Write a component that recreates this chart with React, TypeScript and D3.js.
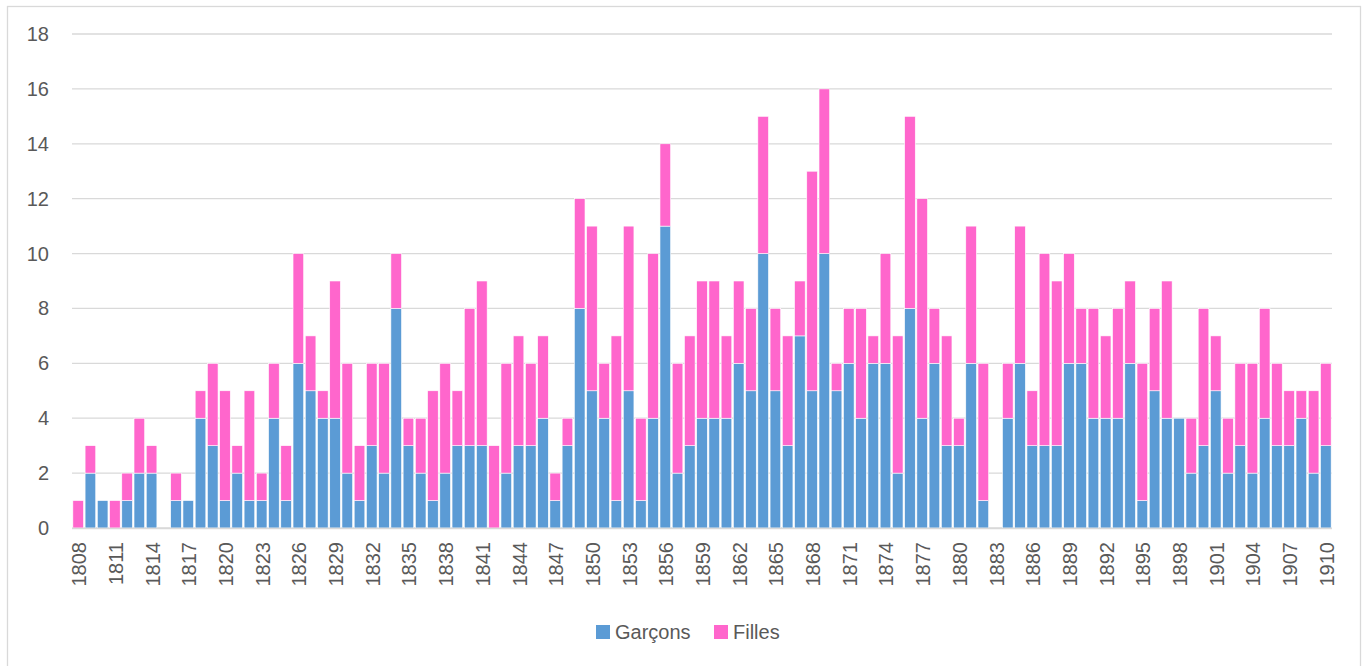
import { useEffect, useRef } from "react";
import * as d3 from "d3";

// années 1808 - 1910
const years = d3.range(1808, 1911).map(String);

// nombre de garçons par année
const garcons = [
  0, 2, 1, 0, 1, 2, 2, 0, 1, 1, 4, 3, 1, 2, 1, 1, 4, 1, 6, 5,
  4, 4, 2, 1, 3, 2, 8, 3, 2, 1, 2, 3, 3, 3, 0, 2, 3, 3, 4, 1,
  3, 8, 5, 4, 1, 5, 1, 4, 11, 2, 3, 4, 4, 4, 6, 5, 10, 5, 3, 7,
  5, 10, 5, 6, 4, 6, 6, 2, 8, 4, 6, 3, 3, 6, 1, 0, 4, 6, 3, 3,
  3, 6, 6, 4, 4, 4, 6, 1, 5, 4, 4, 2, 3, 5, 2, 3, 2, 4, 3, 3,
  4, 2, 3,
];

// nombre de filles par année
const filles = [
  1, 1, 0, 1, 1, 2, 1, 0, 1, 0, 1, 3, 4, 1, 4, 1, 2, 2, 4, 2,
  1, 5, 4, 2, 3, 4, 2, 1, 2, 4, 4, 2, 5, 6, 3, 4, 4, 3, 3, 1,
  1, 4, 6, 2, 6, 6, 3, 6, 3, 4, 4, 5, 5, 3, 3, 3, 5, 3, 4, 2,
  8, 6, 1, 2, 4, 1, 4, 5, 7, 8, 2, 4, 1, 5, 5, 0, 2, 5, 2, 7,
  6, 4, 2, 4, 3, 4, 3, 5, 3, 5, 0, 2, 5, 2, 2, 3, 4, 4, 3, 2,
  1, 3, 3,
];

const series = ["Garçons", "Filles"];
const colors = ["#5B9BD5", "#FF66CC"];
const yTicks = [0, 2, 4, 6, 8, 10, 12, 14, 16, 18];

const W = 1367;
const H = 666;
const FONT = "'Liberation Sans', Arial, sans-serif";

const App = () => {
  const ref = useRef(null);

  useEffect(() => {
    const svg = d3.select(ref.current);
    svg.selectAll("*").remove();

    const left = 72;
    const right = 1332;
    const top = 34;
    const bottom = 528;

    const x = d3.scaleBand().domain(years).range([left, right]).paddingInner(0.13).paddingOuter(0.07);
    const y = d3.scaleLinear().domain([0, 18]).range([bottom, top]);

    // cadre (coupé en bas)
    svg
      .append("rect")
      .attr("x", 7.5)
      .attr("y", 6.5)
      .attr("width", 1353)
      .attr("height", 670)
      .attr("fill", "white")
      .attr("stroke", "#D9D9D9")
      .attr("stroke-width", 1.3);

    // grille
    svg
      .append("g")
      .selectAll("line")
      .data(yTicks)
      .enter()
      .append("line")
      .attr("x1", left)
      .attr("x2", right)
      .attr("y1", (d) => y(d))
      .attr("y2", (d) => y(d))
      .attr("stroke", "#D9D9D9")
      .attr("stroke-width", 1.3);

    // labels axe y
    svg
      .append("g")
      .selectAll("text")
      .data(yTicks)
      .enter()
      .append("text")
      .attr("x", 49)
      .attr("y", (d) => y(d))
      .attr("dy", "0.35em")
      .attr("text-anchor", "end")
      .attr("fill", "#595959")
      .style("font-family", FONT)
      .style("font-size", "20px")
      .text((d) => d);

    // empilement
    const table = years.map((yr, i) => ({ year: yr, "Garçons": garcons[i], Filles: filles[i] }));
    const stacked = d3.stack().keys(series)(table);

    svg
      .append("g")
      .selectAll("g")
      .data(stacked)
      .enter()
      .append("g")
      .attr("fill", (d, i) => colors[i])
      .selectAll("rect")
      .data((d) => d.filter((p) => p[1] > p[0]))
      .enter()
      .append("rect")
      .attr("x", (d) => x(d.data.year))
      .attr("width", x.bandwidth())
      .attr("y", (d) => y(d[1]))
      .attr("height", (d) => y(d[0]) - y(d[1]))
      .attr("stroke", "white")
      .attr("stroke-width", 0.6);

    // axe x
    svg
      .append("line")
      .attr("x1", left)
      .attr("x2", right)
      .attr("y1", bottom + 0.5)
      .attr("y2", bottom + 0.5)
      .attr("stroke", "#D9D9D9")
      .attr("stroke-width", 1.3);

    svg
      .append("g")
      .selectAll("text")
      .data(years.filter((d, i) => i % 3 === 0))
      .enter()
      .append("text")
      .attr("transform", (d) => `translate(${x(d) + x.bandwidth() / 2 + 1}, ${bottom + 14}) rotate(-90)`)
      .attr("dy", "0.35em")
      .attr("text-anchor", "end")
      .attr("fill", "#595959")
      .style("font-family", FONT)
      .style("font-size", "20px")
      .text((d) => d);

    // légende
    const legend = svg.append("g").attr("transform", "translate(596, 632)");
    const lx = [0, 118];
    series.forEach((s, i) => {
      legend
        .append("rect")
        .attr("x", lx[i])
        .attr("y", -7)
        .attr("width", 14)
        .attr("height", 14)
        .attr("fill", colors[i]);
      legend
        .append("text")
        .attr("x", lx[i] + 19)
        .attr("y", 0)
        .attr("dy", "0.35em")
        .attr("fill", "#595959")
        .style("font-family", FONT)
        .style("font-size", "20px")
        .text(s);
    });
  }, []);

  return (
    <div style={{ position: "absolute", left: 0, top: 0 }}>
      <svg ref={ref} width={W} height={H} style={{ display: "block" }}></svg>
    </div>
  );
};

export default App;
